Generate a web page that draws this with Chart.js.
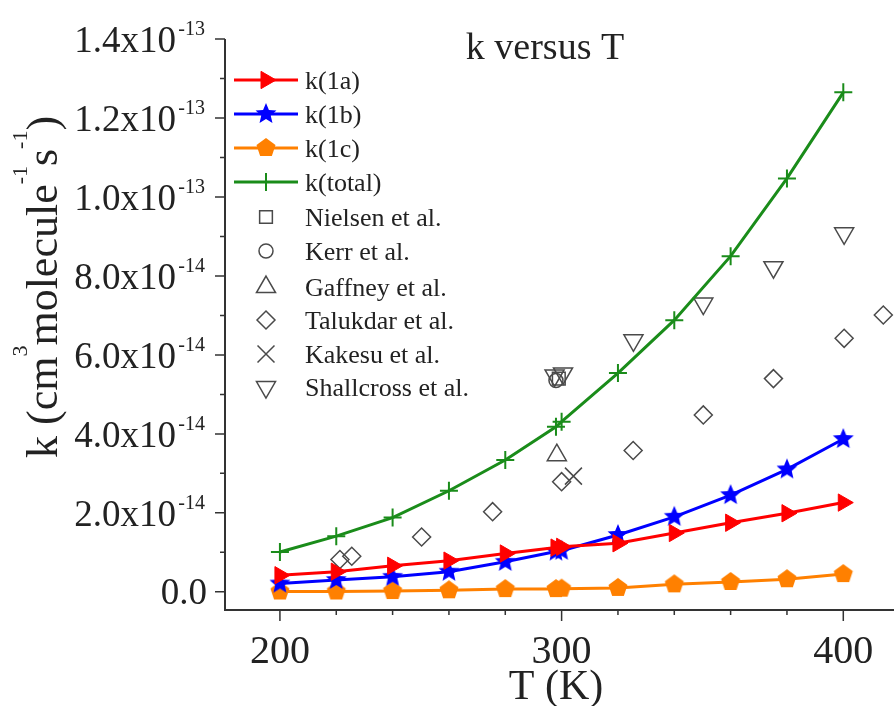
<!DOCTYPE html>
<html>
<head>
<meta charset="utf-8">
<title>k versus T</title>
<script src="https://cdn.jsdelivr.net/npm/chart.js@4.4.0/dist/chart.umd.min.js"></script>
<style>
  body { margin: 0; background: #fff; font-family: "Liberation Serif", serif; }
  #wrap { width: 894px; height: 706px; }
</style>
</head>
<body>
<div id="wrap"><canvas id="myChart1" width="894" height="706"></canvas></div>
<script>
// model curves (T in K, k in cm3 molecule-1 s-1)
var temps = [200, 220, 240, 260, 280, 298, 300, 320, 340, 360, 380, 400];
var k1a = [4.2e-15, 5.1e-15, 6.6e-15, 7.9e-15, 9.7e-15, 11.2e-15, 11.4e-15, 12.3e-15, 14.9e-15, 17.5e-15, 19.9e-15, 22.6e-15];
var k1b = [2.1e-15, 3.0e-15, 3.8e-15, 5.1e-15, 7.6e-15, 10.2e-15, 10.4e-15, 14.4e-15, 19.0e-15, 24.5e-15, 31.0e-15, 38.7e-15];
var k1c = [0.1e-15, 0.1e-15, 0.2e-15, 0.4e-15, 0.7e-15, 0.7e-15, 0.8e-15, 1.0e-15, 1.9e-15, 2.5e-15, 3.2e-15, 4.5e-15];
var kTotal = [10.1e-15, 14.1e-15, 18.8e-15, 25.6e-15, 33.4e-15, 41.8e-15, 43.1e-15, 55.4e-15, 68.8e-15, 85.0e-15, 104.7e-15, 126.5e-15];

// experimental points
var nielsenT = [299];
var nielsenK = [54.0e-15];
var kerrT = [298];
var kerrK = [53.5e-15];
var gaffneyT = [298.3];
var gaffneyK = [34.6e-15];
var talukdarT = [221.3, 225.5, 250.3, 275.5, 300, 325.4, 350.3, 375.2, 400.3, 414.2];
var talukdarK = [8.2e-15, 9.0e-15, 13.9e-15, 20.3e-15, 27.9e-15, 35.8e-15, 44.8e-15, 54.0e-15, 64.2e-15, 70.1e-15];
var kakesuT = [304.2];
var kakesuK = [29.3e-15];
var shallcrossT = [297.5, 300.5, 325.5, 350.3, 375.2, 400.3];
var shallcrossK = [54.8e-15, 55.3e-15, 63.7e-15, 73.0e-15, 82.2e-15, 90.8e-15];

// axis ticks
var xTicks = [200, 300, 400];
var xMinor = [220, 240, 260, 280, 320, 340, 360, 380];
var yTicks = [0, 2e-14, 4e-14, 6e-14, 8e-14, 1.0e-13, 1.2e-13, 1.4e-13];
var yMinor = [1e-14, 3e-14, 5e-14, 7e-14, 9e-14, 1.1e-13, 1.3e-13];

var SERIF = '"Liberation Serif", "DejaVu Serif", serif';
var GRAY = '#4a4a4a';

function pairs(xs, ys) {
  return xs.map(function (x, i) { return { x: x, y: ys[i] }; });
}

function makeStar(color, r) {
  var c = document.createElement('canvas');
  c.width = c.height = 2 * r + 2;
  var g = c.getContext('2d');
  g.translate(r + 1, r + 1);
  g.beginPath();
  for (var i = 0; i < 10; i++) {
    var rad = i % 2 === 0 ? r : r * 0.45;
    var a = -Math.PI / 2 + i * Math.PI / 5;
    g.lineTo(rad * Math.cos(a), rad * Math.sin(a));
  }
  g.closePath();
  g.fillStyle = color;
  g.fill();
  return c;
}

function makePentagon(color, r) {
  var c = document.createElement('canvas');
  c.width = c.height = 2 * r + 2;
  var g = c.getContext('2d');
  g.translate(r + 1, r + 1);
  g.beginPath();
  for (var i = 0; i < 5; i++) {
    var a = -Math.PI / 2 + i * 2 * Math.PI / 5;
    g.lineTo(r * Math.cos(a), r * Math.sin(a));
  }
  g.closePath();
  g.fillStyle = color;
  g.fill();
  return c;
}

function lineSet(label, data, color, style, radius, rotation) {
  return {
    label: label,
    data: pairs(temps, data),
    showLine: true,
    borderColor: color,
    borderWidth: 3,
    backgroundColor: color,
    pointStyle: style,
    pointRadius: radius,
    pointRotation: rotation || 0,
    pointBackgroundColor: color,
    pointBorderColor: color,
    pointBorderWidth: style === 'cross' ? 2 : 1,
    clip: false,
    isLine: true
  };
}

function pointSet(label, xs, ys, style, radius, rotation) {
  return {
    label: label,
    data: pairs(xs, ys),
    showLine: false,
    pointStyle: style,
    pointRadius: radius,
    pointRotation: rotation || 0,
    pointBackgroundColor: 'rgba(0,0,0,0)',
    pointBorderColor: GRAY,
    pointBorderWidth: 1.5,
    clip: false,
    isLine: false
  };
}

function drawMarker(ctx, ds, x, y) {
  ctx.save();
  ctx.fillStyle = ds.pointBackgroundColor;
  ctx.strokeStyle = ds.pointBorderColor;
  ctx.lineWidth = ds.pointBorderWidth;
  Chart.helpers.drawPoint(ctx, {
    pointStyle: ds.pointStyle,
    rotation: ds.pointRotation,
    radius: ds.pointRadius,
    borderWidth: ds.pointBorderWidth
  }, x, y);
  ctx.restore();
}

var decorations = {
  id: 'decorations',
  afterDraw: function (chart) {
    var ctx = chart.ctx;
    var xs = chart.scales.x;
    var ys = chart.scales.y;
    var area = chart.chartArea;
    ctx.save();
    ctx.strokeStyle = '#333';
    ctx.fillStyle = '#222';

    // axis lines
    ctx.lineWidth = 2;
    ctx.beginPath();
    ctx.moveTo(area.left, area.top);
    ctx.lineTo(area.left, area.bottom);
    ctx.lineTo(area.right, area.bottom);
    ctx.stroke();

    // tick marks
    ctx.lineWidth = 1.5;
    ctx.beginPath();
    xTicks.forEach(function (v) {
      var px = xs.getPixelForValue(v);
      ctx.moveTo(px, area.bottom);
      ctx.lineTo(px, area.bottom + 11);
    });
    xMinor.forEach(function (v) {
      var px = xs.getPixelForValue(v);
      ctx.moveTo(px, area.bottom);
      ctx.lineTo(px, area.bottom + 5);
    });
    yTicks.forEach(function (v) {
      var py = ys.getPixelForValue(v);
      ctx.moveTo(area.left, py);
      ctx.lineTo(area.left - 10, py);
    });
    yMinor.forEach(function (v) {
      var py = ys.getPixelForValue(v);
      ctx.moveTo(area.left, py);
      ctx.lineTo(area.left - 5, py);
    });
    ctx.stroke();

    // x tick labels
    ctx.textAlign = 'center';
    ctx.textBaseline = 'alphabetic';
    ctx.font = '40px ' + SERIF;
    xTicks.forEach(function (v) {
      ctx.fillText(String(v), xs.getPixelForValue(v), 663);
    });

    // y tick labels, mantissa x 10 with exponent
    ctx.textAlign = 'right';
    yTicks.forEach(function (v) {
      var py = ys.getPixelForValue(v);
      if (v === 0) {
        ctx.font = '37px ' + SERIF;
        ctx.fillText('0.0', 207, py + 12);
        return;
      }
      var exp = v >= 1e-13 - 1e-20 ? -13 : -14;
      var mant = (v / Math.pow(10, exp)).toFixed(1);
      ctx.font = '37px ' + SERIF;
      ctx.fillText(mant + 'x10', 176, py + 13);
      ctx.font = '20px ' + SERIF;
      ctx.fillText(String(exp), 205, py - 4);
    });

    // titles
    ctx.textAlign = 'center';
    ctx.font = '38px ' + SERIF;
    ctx.fillText('k versus T', 545, 59);
    ctx.font = '42px ' + SERIF;
    ctx.fillText('T (K)', 556, 699);

    // y axis title with superscripts
    var parts = [['k (cm', 0], ['3', 1], ['molecule', 0], ['-1', 1], ['s', 0], ['-1', 1], [')', 0]];
    ctx.save();
    ctx.translate(57, 458);
    ctx.rotate(-Math.PI / 2);
    ctx.textAlign = 'left';
    var tx = 0;
    parts.forEach(function (p) {
      ctx.font = (p[1] ? '22px ' : '44px ') + SERIF;
      ctx.fillText(p[0], tx, p[1] ? -30 : 0);
      tx += ctx.measureText(p[0]).width;
    });
    ctx.restore();

    // legend
    var rows = [80, 114, 148, 182, 217, 251, 287, 320, 354, 387];
    chart.data.datasets.forEach(function (ds, i) {
      var ry = rows[i];
      if (ds.isLine) {
        ctx.strokeStyle = ds.borderColor;
        ctx.lineWidth = 3;
        ctx.beginPath();
        ctx.moveTo(234, ry);
        ctx.lineTo(298, ry);
        ctx.stroke();
      }
      drawMarker(ctx, ds, 266, ry);
      ctx.fillStyle = '#222';
      ctx.textAlign = 'left';
      ctx.font = '26px ' + SERIF;
      ctx.fillText(ds.label, 305, ry + 9);
    });

    ctx.restore();
  }
};

function printChart1() {
  var ctx = document.getElementById('myChart1').getContext('2d');
  var chart = new Chart(ctx, {
    type: 'scatter',
    data: {
      datasets: [
        lineSet('k(1a)', k1a, '#ff0000', 'triangle', 10, 90),
        lineSet('k(1b)', k1b, '#0000ff', makeStar('#0000ff', 11), 10),
        lineSet('k(1c)', k1c, '#ff8000', makePentagon('#ff8000', 10), 10),
        lineSet('k(total)', kTotal, '#1a8c1a', 'cross', 9),
        pointSet('Nielsen et al.', nielsenT, nielsenK, 'rect', 9),
        pointSet('Kerr et al.', kerrT, kerrK, 'circle', 7),
        pointSet('Gaffney et al.', gaffneyT, gaffneyK, 'triangle', 11),
        pointSet('Talukdar et al.', talukdarT, talukdarK, 'rectRot', 9),
        pointSet('Kakesu et al.', kakesuT, kakesuK, 'crossRot', 12),
        pointSet('Shallcross et al.', shallcrossT, shallcrossK, 'triangle', 11, 180)
      ]
    },
    options: {
      responsive: false,
      animation: false,
      layout: { autoPadding: false, padding: { top: 39, right: 0, bottom: 0, left: 0 } },
      elements: { line: { tension: 0 } },
      plugins: {
        legend: { display: false },
        tooltip: { enabled: false }
      },
      scales: {
        x: {
          type: 'linear',
          min: 180.5,
          max: 418,
          ticks: { display: false },
          grid: { display: false },
          border: { display: false },
          afterFit: function (s) { s.height = 96; }
        },
        y: {
          type: 'linear',
          min: -4.6e-15,
          max: 1.4e-13,
          ticks: { display: false },
          grid: { display: false },
          border: { display: false },
          afterFit: function (s) { s.width = 225; }
        }
      }
    },
    plugins: [decorations]
  });
}

function init() {
  if (document.fonts && document.fonts.load) {
    Promise.all([
      document.fonts.load('40px "Liberation Serif"'),
      document.fonts.load('20px "Liberation Serif"')
    ]).then(printChart1, printChart1);
  } else {
    printChart1();
  }
}

init();
</script>
</body>
</html>
